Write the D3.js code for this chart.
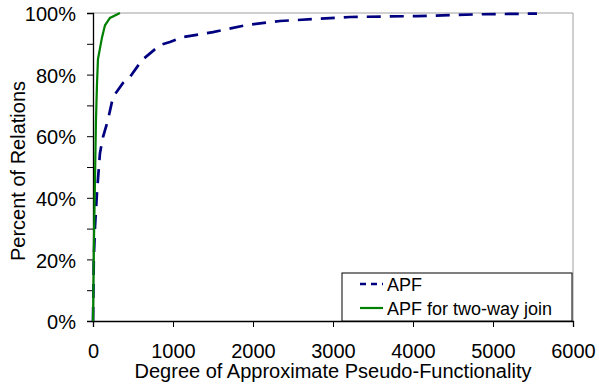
<!DOCTYPE html>
<html>
<head>
<meta charset="utf-8">
<script src="https://cdn.jsdelivr.net/npm/d3@7"></script>
<style>
  body { margin: 0; background: #fff; }
  text { font-family: "Liberation Sans", Arial, sans-serif; fill: #000; }
</style>
</head>
<body>
<div id="chart"></div>
<script>
// degree values and cumulative percent for each series
const apfX = [0, 10, 25, 50, 87, 125, 187, 250, 375, 462, 612, 837, 962, 1125, 1500, 1925, 2337, 3212, 4050, 4875, 5550];
const apfY = [0, 20, 30.5, 41.9, 54.5, 59.7, 65.3, 72.7, 77.3, 79.2, 84.7, 89.6, 90.6, 92.2, 93.8, 96.1, 97.4, 98.7, 99.0, 99.6, 99.8];
const twoWayX = [0, 12, 25, 37, 50, 62, 112, 150, 212, 337];
const twoWayY = [0, 26, 46, 65, 77, 85, 92, 96, 98.4, 100];

const xTicks = [0, 1000, 2000, 3000, 4000, 5000, 6000];
const yTicks = [0, 20, 40, 60, 80, 100];
const yMinorTicks = [0, 10, 20, 30, 40, 50, 60, 70, 80, 90, 100];
const seriesNames = ['APF', 'APF for two-way join'];

const width = 599, height = 386;
const margin = { left: 93, right: 26, top: 13, bottom: 65 };
const plotW = width - margin.left - margin.right;
const plotH = height - margin.top - margin.bottom;
const fontFamily = '"Liberation Sans", Arial, sans-serif';

const svg = d3.select('#chart')
    .append('svg')
    .attr('width', width)
    .attr('height', height);

const x = d3.scaleLinear().domain([0, 6000]).range([margin.left, margin.left + plotW]);
const y = d3.scaleLinear().domain([0, 100]).range([margin.top + plotH, margin.top]);

// plot frame (top and right in gray)
svg.append('path')
    .attr('d', `M${x(0)},${y(100)}H${x(6000)}V${y(0)}`)
    .attr('fill', 'none')
    .attr('stroke', '#a0a0a0')
    .attr('stroke-width', 1);

// y axis
const yAxis = svg.append('g')
    .attr('transform', `translate(${x(0)},0)`)
    .call(d3.axisLeft(y).tickValues(yMinorTicks).tickSize(6).tickFormat(d => yTicks.includes(d) ? d + '%' : ''));
yAxis.select('.domain').attr('stroke', '#000').attr('stroke-width', 1.3);
yAxis.selectAll('.tick line').attr('stroke', '#000');
yAxis.selectAll('.tick text')
    .attr('font-size', 20)
    .attr('x', -17)
    .attr('dy', '0.38em')
    .attr('font-family', fontFamily);

// x axis
const xAxis = svg.append('g')
    .attr('transform', `translate(0,${y(0)})`)
    .call(d3.axisBottom(x).tickValues(xTicks).tickSize(6).tickFormat(d3.format('d')));
xAxis.select('.domain').attr('stroke', '#000').attr('stroke-width', 1.3);
xAxis.selectAll('.tick line').attr('stroke', '#000');
xAxis.selectAll('.tick text')
    .attr('font-size', 20)
    .attr('y', 22.5)
    .attr('font-family', fontFamily);

// axis titles
svg.append('text')
    .attr('x', margin.left + plotW / 2)
    .attr('y', 378)
    .attr('text-anchor', 'middle')
    .attr('font-size', 20)
    .text('Degree of Approximate Pseudo-Functionality');

svg.append('text')
    .attr('transform', `translate(25,${margin.top + plotH / 2 + 4}) rotate(-90)`)
    .attr('text-anchor', 'middle')
    .attr('font-size', 20)
    .text('Percent of Relations');

// lines
const line = d3.line().x(d => x(d[0])).y(d => y(d[1]));

svg.append('path')
    .datum(apfX.map((v, i) => [v, apfY[i]]))
    .attr('d', line)
    .attr('fill', 'none')
    .attr('stroke', '#000080')
    .attr('stroke-width', 2.7)
    .attr('stroke-dasharray', '14,9');

svg.append('path')
    .datum(twoWayX.map((v, i) => [v, twoWayY[i]]))
    .attr('d', line)
    .attr('fill', 'none')
    .attr('stroke', '#008000')
    .attr('stroke-width', 2.2);

// legend
const legend = svg.append('g').attr('transform', 'translate(342,273)');
legend.append('rect')
    .attr('width', 230)
    .attr('height', 48)
    .attr('fill', '#fff')
    .attr('stroke', '#000')
    .attr('stroke-width', 1);

const legendStyles = [
    { color: '#000080', dash: '6,5', w: 2.7 },
    { color: '#008000', dash: null, w: 2.2 }
];
seriesNames.forEach((name, i) => {
    const ly = 11 + i * 24;
    legend.append('line')
        .attr('x1', 18).attr('x2', 41)
        .attr('y1', ly).attr('y2', ly)
        .attr('stroke', legendStyles[i].color)
        .attr('stroke-width', legendStyles[i].w)
        .attr('stroke-dasharray', legendStyles[i].dash);
    legend.append('text')
        .attr('x', 45)
        .attr('y', ly + 7)
        .attr('font-size', 18)
        .text(name);
});
</script>
</body>
</html>
